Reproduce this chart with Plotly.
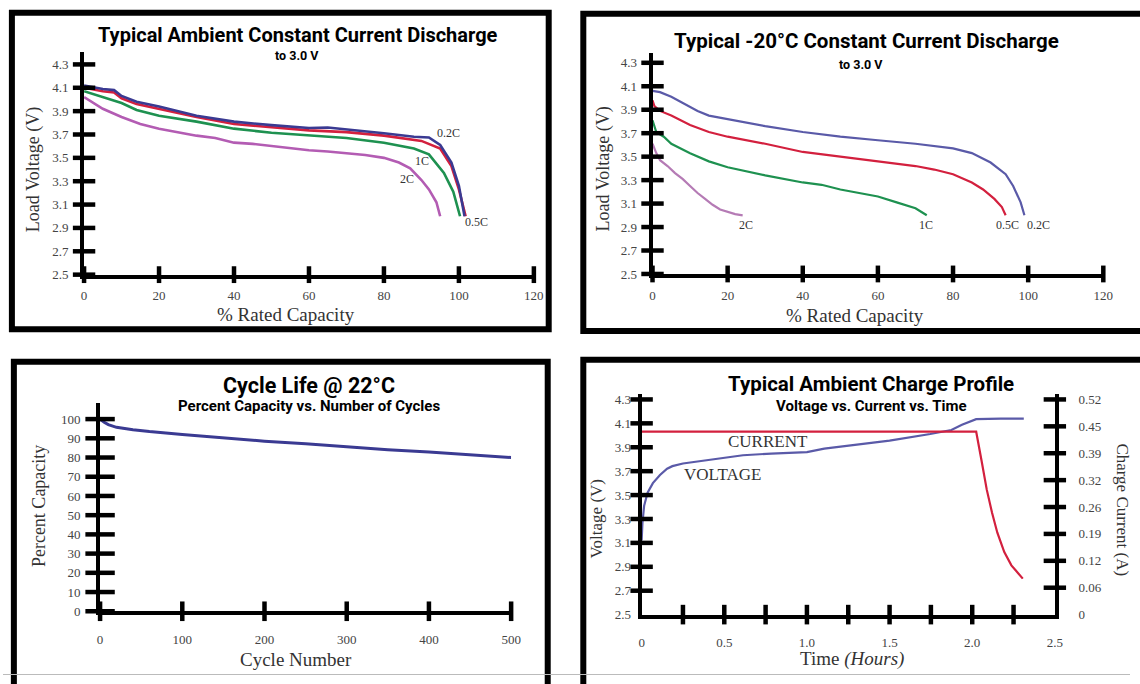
import plotly.graph_objects as go

W, H = 1140, 684

# ---------------- DATA ----------------
# Panel 1: Typical Ambient Constant Current Discharge (x: % rated capacity, y: load voltage)
amb_02c_x = [0, 5, 8, 10, 14, 20, 30, 40, 50, 60, 65, 70, 80, 88, 92, 95, 98, 100, 101.5]
amb_02c_y = [4.12, 4.09, 4.08, 4.03, 3.98, 3.94, 3.86, 3.81, 3.78, 3.755, 3.76, 3.745, 3.71, 3.68, 3.675, 3.61, 3.46, 3.26, 3.0]
amb_05c_x = [0, 5, 8, 10, 14, 20, 30, 40, 50, 60, 70, 80, 90, 95, 98, 100, 101.8]
amb_05c_y = [4.10, 4.07, 4.06, 4.01, 3.96, 3.92, 3.85, 3.79, 3.76, 3.735, 3.72, 3.69, 3.645, 3.58, 3.43, 3.23, 3.0]
amb_1c_x = [0, 5, 10, 14, 20, 30, 40, 50, 60, 70, 80, 88, 92, 96, 98.5, 100.3]
amb_1c_y = [4.07, 4.02, 3.97, 3.91, 3.86, 3.81, 3.75, 3.715, 3.69, 3.67, 3.63, 3.58, 3.53, 3.37, 3.21, 3.0]
amb_2c_x = [0, 5, 10, 15, 20, 25, 30, 35, 40, 45, 50, 55, 60, 65, 70, 75, 80, 84, 87, 90, 92, 94, 95]
amb_2c_y = [4.02, 3.92, 3.85, 3.79, 3.75, 3.72, 3.69, 3.67, 3.63, 3.62, 3.60, 3.58, 3.565, 3.555, 3.54, 3.525, 3.50, 3.46, 3.41, 3.31, 3.23, 3.12, 3.0]

# Panel 2: Typical -20°C Constant Current Discharge
cold_02c_x = [0, 2, 5, 8, 10, 12, 15, 20, 30, 40, 50, 60, 70, 80, 85, 90, 94, 96, 98, 99]
cold_02c_y = [4.06, 4.05, 4.01, 3.96, 3.92, 3.89, 3.85, 3.82, 3.76, 3.71, 3.67, 3.64, 3.61, 3.57, 3.53, 3.45, 3.35, 3.25, 3.11, 3.0]
cold_05c_x = [0, 0.5, 2, 5, 10, 15, 20, 30, 40, 50, 60, 70, 75, 80, 85, 88, 91, 93, 94]
cold_05c_y = [3.98, 3.93, 3.89, 3.85, 3.77, 3.71, 3.67, 3.61, 3.54, 3.50, 3.46, 3.42, 3.39, 3.35, 3.28, 3.22, 3.14, 3.07, 3.0]
cold_1c_x = [0, 1, 3, 5, 10, 15, 20, 30, 40, 45, 50, 55, 60, 65, 70, 73]
cold_1c_y = [3.81, 3.71, 3.67, 3.61, 3.53, 3.46, 3.41, 3.34, 3.28, 3.26, 3.22, 3.19, 3.16, 3.11, 3.06, 3.0]
cold_2c_x = [0, 1, 2, 4, 6, 8, 10, 12, 14, 16, 18, 20, 22, 24]
cold_2c_y = [3.61, 3.53, 3.47, 3.42, 3.36, 3.31, 3.25, 3.19, 3.14, 3.09, 3.05, 3.03, 3.01, 3.0]

# Panel 3: Cycle life @ 22°C
cycle_x = [0, 5, 10, 20, 40, 60, 100, 150, 200, 250, 300, 350, 400, 450, 500]
cycle_y = [100, 98.3, 97.1, 95.7, 94.5, 93.5, 92.0, 90.3, 88.5, 87.2, 85.5, 84.1, 82.9, 81.5, 80.0]

# Panel 4: Typical Ambient Charge Profile
volt_t = [0, 0.005, 0.015, 0.036, 0.068, 0.111, 0.154, 0.186, 0.25, 0.464, 0.613, 0.784, 1.0, 1.105, 1.318, 1.5, 1.746, 1.874, 1.938, 2.024, 2.173, 2.312]
volt_v = [3.12, 3.27, 3.41, 3.52, 3.60, 3.668, 3.72, 3.742, 3.764, 3.805, 3.833, 3.847, 3.86, 3.888, 3.923, 3.956, 4.011, 4.044, 4.088, 4.135, 4.14, 4.14]
curr_t = [0, 2.024, 2.056, 2.088, 2.12, 2.152, 2.194, 2.237, 2.306]
curr_a = [0.442, 0.442, 0.373, 0.302, 0.246, 0.198, 0.151, 0.119, 0.087]

# Tick values / labels
dis_x_ticks = [0, 20, 40, 60, 80, 100, 120]
dis_y_ticks = [2.5, 2.7, 2.9, 3.1, 3.3, 3.5, 3.7, 3.9, 4.1, 4.3]
cyc_x_ticks = [0, 100, 200, 300, 400, 500]
cyc_y_ticks = [0, 10, 20, 30, 40, 50, 60, 70, 80, 90, 100]
chg_x_marks = [0.25, 0.5, 0.75, 1.0, 1.25, 1.5, 1.75, 2.0, 2.25]
chg_x_labels = [0, 0.5, 1.0, 1.5, 2.0, 2.5]
chg_x_text = ["0", "0.5", "1.0", "1.5", "2.0", "2.5"]
chg_y_marks = [2.7, 2.9, 3.1, 3.3, 3.5, 3.7, 3.9, 4.1, 4.3]
chg_i_ticks = [0, 0.065, 0.13, 0.195, 0.26, 0.325, 0.39, 0.455, 0.52]
chg_i_text = ["0", "0.06", "0.12", "0.19", "0.26", "0.32", "0.39", "0.45", "0.52"]

# ---------------- STYLE ----------------
BLUE = "#3a3a92"
BLUE2 = "#5a5aa8"
RED = "#d3203e"
GREEN = "#1e9150"
MAG = "#b35cb3"
MAG2 = "#b57bb5"
SERIF = "Liberation Serif, Times New Roman, serif"
COND = "Roboto, Liberation Sans, Arial, sans-serif"
TXT = "#333333"


def px(x):
    return x / W


def py(y):
    return 1 - y / H


fig = go.Figure()


def line(x, y, color, xa, ya, width=2.6):
    fig.add_trace(go.Scatter(x=x, y=y, mode="lines", line=dict(color=color, width=width),
                             xaxis=xa, yaxis=ya, hoverinfo="skip", showlegend=False))


def tickmarks(x, y, sym, size, xa, ya):
    fig.add_trace(go.Scatter(x=x, y=y, mode="markers", cliponaxis=False,
                             marker=dict(symbol=sym, size=size, color="black",
                                         line=dict(color="black", width=4.5)),
                             xaxis=xa, yaxis=ya, hoverinfo="skip", showlegend=False))


# Panel 1
line(amb_2c_x, amb_2c_y, MAG, "x", "y")
line(amb_1c_x, amb_1c_y, GREEN, "x", "y")
line(amb_05c_x, amb_05c_y, RED, "x", "y")
line(amb_02c_x, amb_02c_y, BLUE, "x", "y")
tickmarks([0] * len(dis_y_ticks), dis_y_ticks, "line-ew", 16, "x", "y")
tickmarks(dis_x_ticks, [2.5] * len(dis_x_ticks), "line-ns", 12, "x", "y")

# Panel 2
line(cold_2c_x, cold_2c_y, MAG2, "x2", "y2", 2.2)
line(cold_1c_x, cold_1c_y, GREEN, "x2", "y2", 2.2)
line(cold_05c_x, cold_05c_y, RED, "x2", "y2", 2.2)
line(cold_02c_x, cold_02c_y, BLUE2, "x2", "y2", 2.2)
tickmarks([0] * len(dis_y_ticks), dis_y_ticks, "line-ew", 16, "x2", "y2")
tickmarks(dis_x_ticks, [2.5] * len(dis_x_ticks), "line-ns", 12, "x2", "y2")

# Panel 3
line(cycle_x, cycle_y, BLUE, "x3", "y3", 3)
tickmarks([0] * len(cyc_y_ticks), cyc_y_ticks, "line-ew", 21, "x3", "y3")
tickmarks(cyc_x_ticks, [0] * len(cyc_x_ticks), "line-ns", 14, "x3", "y3")

# Panel 4
line(volt_t, volt_v, BLUE2, "x4", "y4", 2.2)
line(curr_t, curr_a, RED, "x4", "y5", 2.2)
tickmarks([0] * len(chg_y_marks), chg_y_marks, "line-ew", 16, "x4", "y4")
tickmarks(chg_x_marks, [2.5] * len(chg_x_marks), "line-ns", 14, "x4", "y4")
tickmarks([2.5] * (len(chg_i_ticks) - 1), chg_i_ticks[1:], "line-ew", 16, "x4", "y5")

tickfont = dict(family=SERIF, size=13, color="#444444")
common = dict(showline=True, linewidth=4, linecolor="black", showgrid=False, zeroline=False,
              ticks="outside", tickcolor="rgba(0,0,0,0)", tickfont=tickfont, fixedrange=True)

fmt1 = [f"{v:.1f}" for v in dis_y_ticks]

fig.update_layout(
    width=W, height=H, margin=dict(l=0, r=0, t=0, b=0),
    paper_bgcolor="white", plot_bgcolor="rgba(0,0,0,0)",
    xaxis=dict(domain=[px(82), px(537)], range=[0, 120], tickvals=dis_x_ticks, anchor="y", ticklen=6, **common),
    yaxis=dict(domain=[py(276.7), py(50.3)], range=[2.5, 4.41], tickvals=dis_y_ticks, ticktext=fmt1,
               anchor="x", ticklen=9, **common),
    xaxis2=dict(domain=[px(657), px(1113)], range=[0, 120], tickvals=dis_x_ticks, anchor="y2", ticklen=6, **common),
    yaxis2=dict(domain=[py(276), py(51.7)], range=[2.5, 4.384], tickvals=dis_y_ticks, ticktext=fmt1,
                anchor="x2", ticklen=9, **common),
    xaxis3=dict(domain=[px(98.2), px(514)], range=[0, 500], tickvals=cyc_x_ticks, anchor="y3", ticklen=13, **common),
    yaxis3=dict(domain=[py(618.3), py(406.7)], range=[0, 108.5], tickvals=cyc_y_ticks, anchor="x3", ticklen=13, **common),
    xaxis4=dict(domain=[px(646), px(1064)], range=[0, 2.5], tickvals=chg_x_labels, ticktext=chg_x_text,
                anchor="y4", ticklen=13, **common),
    yaxis4=dict(domain=[py(621.7), py(398)], range=[2.5, 4.344], tickvals=dis_y_ticks, ticktext=fmt1,
                anchor="x4", ticklen=4, **common),
    yaxis5=dict(domain=[py(621.7), py(398)], range=[0, 0.52 * 1.844 / 1.8], tickvals=chg_i_ticks,
                ticktext=chg_i_text, overlaying="y4", side="right", anchor="x4", ticklen=17, **common),
)

# Frames
frames = [(9, 11, 552, 332), (587, 12, 1160, 334), (11, 365, 551, 700), (587, 363, 1160, 700)]
for x0, y0, x1, y1 in frames:
    fig.add_shape(type="rect", xref="paper", yref="paper", x0=px(x0), x1=px(x1), y0=py(y1), y1=py(y0),
                  line=dict(color="black", width=6), fillcolor="rgba(0,0,0,0)", layer="above")
fig.add_shape(type="line", xref="paper", yref="paper", x0=0, x1=1, y0=py(682.5), y1=py(682.5),
              line=dict(color="#bbbbbb", width=1.2))


def ann(text, x, y, size, family=SERIF, color=TXT, angle=0, weight="normal"):
    fig.add_annotation(text=text, x=px(x), y=py(y), xref="paper", yref="paper", showarrow=False,
                       xanchor="center", yanchor="middle", textangle=angle,
                       font=dict(family=family, size=size, color=color, weight=weight))


# Titles
ann("Typical Ambient Constant Current Discharge", 298, 33, 20, COND, "black", weight="bold")
ann("to 3.0 V", 297, 54, 12.5, COND, "black", weight="bold")
ann("Typical -20°C Constant Current Discharge", 873, 40, 20.5, COND, "black", weight="bold")
ann("to 3.0 V", 868, 63, 12.5, COND, "black", weight="bold")
ann("Cycle Life @ 22°C", 310, 389, 21.5, COND, "black", weight="bold")
ann("Percent Capacity vs. Number of Cycles", 310, 410, 15, COND, "black", weight="bold")
ann("Typical Ambient Charge Profile", 878, 388, 20.5, COND, "black", weight="bold")
ann("Voltage vs. Current vs. Time", 879, 410, 15, COND, "black", weight="bold")

# Axis titles
ann("Load Voltage (V)", 31, 170, 18, angle=-90)
ann("% Rated Capacity", 286, 317, 19)
ann("Load Voltage (V)", 607, 170, 18, angle=-90)
ann("% Rated Capacity", 862, 318, 19)
ann("Percent Capacity", 36, 512, 18, angle=-90)
ann("Cycle Number", 296, 667, 19)
ann("Voltage (V)", 600, 525, 17, angle=-90)
ann("Charge Current (A)", 1132, 515, 17, angle=90)
ann("Time <i>(Hours)</i>", 859, 667, 19)

# Series labels (data coordinates)
def dlabel(text, x, y, xa, ya, size=12):
    fig.add_annotation(text=text, x=x, y=y, xref=xa, yref=ya, showarrow=False,
                       font=dict(family=SERIF, size=size, color=TXT))


dlabel("0.2C", 97.3, 3.71, "x", "y")
dlabel("1C", 90.2, 3.47, "x", "y")
dlabel("2C", 86.2, 3.32, "x", "y")
dlabel("0.5C", 104.8, 2.95, "x", "y")
dlabel("2C", 24.9, 2.92, "x2", "y2")
dlabel("1C", 72.8, 2.92, "x2", "y2")
dlabel("0.5C", 94.4, 2.92, "x2", "y2")
dlabel("0.2C", 102.8, 2.92, "x2", "y2")
dlabel("CURRENT", 0.763, 3.95, "x4", "y4", 17)
dlabel("VOLTAGE", 0.489, 3.67, "x4", "y4", 17)

fig.write_html("out.html")
